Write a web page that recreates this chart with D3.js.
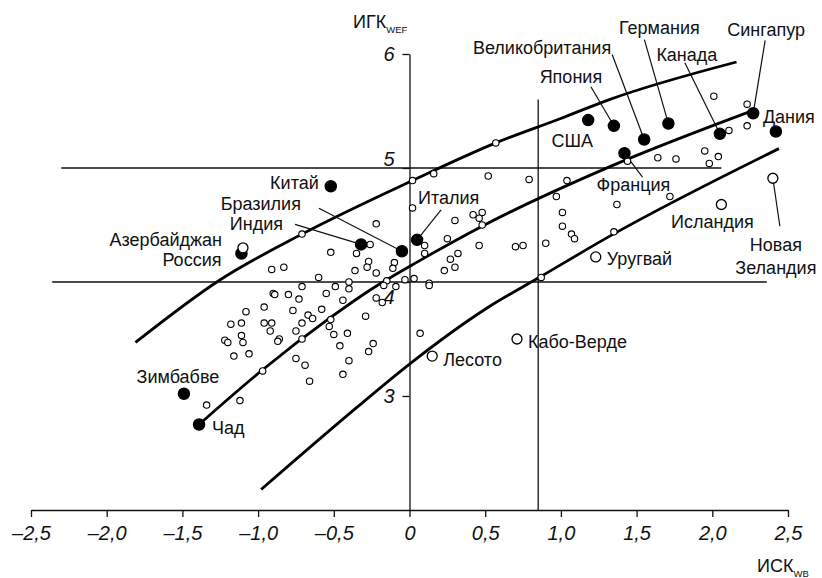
<!DOCTYPE html>
<html>
<head>
<meta charset="utf-8">
<script src="https://cdn.jsdelivr.net/npm/d3@7"></script>
<style>
  body { margin: 0; background: #fff; }
  svg { display: block; font-family: "Liberation Sans", Arial, sans-serif; }
</style>
</head>
<body>
<svg id="chart" width="822" height="578"></svg>
<script>
// ---- values ----
const xTicks = [-2.5, -2, -1.5, -1, -0.5, 0, 0.5, 1, 1.5, 2, 2.5];
const xTickLabels = ["–2,5", "–2,0", "–1,5", "–1,0", "–0,5", "0", "0,5", "1,0", "1,5", "2,0", "2,5"];
const yTicks = [3, 4, 5, 6];
const yTickLabels = ["3", "4", "5", "6"];

// unnamed countries (ИСК, ИГК)
const otherCountries = [
  [0.02, 4.65], [-0.22, 4.51], [-0.71, 4.42], [-0.26, 4.33], [-0.52, 4.26], [-0.35, 4.25],
  [-0.27, 4.18], [-0.28, 4.13], [-0.10, 4.17], [-0.11, 4.12], [-0.36, 4.10], [-0.22, 4.08],
  [-0.91, 4.11], [-0.83, 4.13], [-0.60, 4.04], [-0.40, 4.00], [-0.15, 4.01], [-0.17, 3.97],
  [-0.03, 4.02], [0.03, 4.03], [-0.71, 3.96], [-0.49, 3.96], [-0.40, 3.94], [-0.55, 3.90],
  [-0.90, 3.90], [-0.89, 3.89], [-0.80, 3.89], [-0.73, 3.85], [-0.44, 3.84], [-0.09, 3.96],
  [-0.22, 3.86], [-0.18, 3.82], [-0.96, 3.78], [-1.08, 3.74], [-0.77, 3.75], [-0.58, 3.76],
  [-0.67, 3.71], [-0.64, 3.68], [-0.29, 3.70], [-0.52, 3.67], [-1.18, 3.63], [-1.11, 3.64],
  [-0.96, 3.64], [-0.91, 3.64], [-0.71, 3.64], [-0.53, 3.61], [-0.92, 3.57], [-0.75, 3.57],
  [-0.50, 3.54], [-0.41, 3.55], [-1.11, 3.53], [-1.22, 3.49], [-1.20, 3.47], [-1.10, 3.47],
  [-0.86, 3.50], [-0.87, 3.48], [-0.71, 3.50], [-0.46, 3.44], [-0.24, 3.46], [-0.27, 3.39],
  [-1.16, 3.35], [-1.06, 3.37], [-0.75, 3.33], [-0.69, 3.27], [-0.40, 3.31], [-0.97, 3.22],
  [-0.66, 3.13], [-0.44, 3.19], [-1.34, 2.92], [-1.12, 2.96], [0.07, 3.55], [0.10, 4.32],
  [0.10, 4.25], [0.13, 3.99], [0.13, 3.97], [0.57, 5.22], [0.02, 4.89], [0.16, 4.95],
  [0.52, 4.93], [0.79, 4.90], [1.04, 4.89], [0.97, 4.75], [0.30, 4.54], [0.42, 4.59],
  [0.48, 4.61], [0.46, 4.56], [0.48, 4.50], [1.01, 4.61], [1.01, 4.49], [1.07, 4.42],
  [1.09, 4.38], [0.90, 4.34], [0.25, 4.38], [0.46, 4.32], [0.70, 4.31], [0.75, 4.32],
  [0.32, 4.25], [0.27, 4.20], [0.30, 4.13], [0.23, 4.10], [0.87, 4.04], [2.01, 5.63],
  [2.23, 5.56], [2.23, 5.37], [2.11, 5.33], [1.64, 5.09], [1.76, 5.08], [1.95, 5.15],
  [1.98, 5.04], [2.04, 5.10], [1.44, 5.06], [1.37, 4.68], [1.72, 4.75], [1.35, 4.44]
];

// named countries: filled = black dot, open = larger ring
const namedCountries = [
  { name: "Китай", x: -0.52, y: 4.84, kind: "filled" },
  { name: "Индия", x: -0.32, y: 4.33, kind: "filled" },
  { name: "Бразилия", x: -0.05, y: 4.27, kind: "filled" },
  { name: "Италия", x: 0.05, y: 4.37, kind: "filled" },
  { name: "Россия", x: -1.11, y: 4.25, kind: "filled" },
  { name: "Азербайджан", x: -1.10, y: 4.30, kind: "open" },
  { name: "Зимбабве", x: -1.49, y: 3.02, kind: "filled" },
  { name: "Чад", x: -1.39, y: 2.75, kind: "filled" },
  { name: "США", x: 1.18, y: 5.42, kind: "filled" },
  { name: "Япония", x: 1.35, y: 5.37, kind: "filled" },
  { name: "Великобритания", x: 1.55, y: 5.25, kind: "filled" },
  { name: "Германия", x: 1.71, y: 5.39, kind: "filled" },
  { name: "Франция", x: 1.42, y: 5.13, kind: "filled" },
  { name: "Канада", x: 2.05, y: 5.30, kind: "filled" },
  { name: "Сингапур", x: 2.27, y: 5.48, kind: "filled" },
  { name: "Дания", x: 2.42, y: 5.32, kind: "filled" },
  { name: "Исландия", x: 2.06, y: 4.68, kind: "open" },
  { name: "Новая\nЗеландия", x: 2.40, y: 4.91, kind: "open" },
  { name: "Уругвай", x: 1.23, y: 4.22, kind: "open" },
  { name: "Лесото", x: 0.15, y: 3.35, kind: "open" },
  { name: "Кабо-Верде", x: 0.71, y: 3.50, kind: "open" }
];

// regression line and band borders
const upperBand = [[-1.81, 3.47], [-1.25, 4.02], [-0.71, 4.42], [0.02, 4.89], [0.57, 5.22], [0.99, 5.43], [1.32, 5.60], [2.16, 5.93]];
const trendLine = [[-1.39, 2.75], [-0.97, 3.23], [-0.53, 3.68], [-0.26, 3.93], [0.07, 4.19], [0.48, 4.49], [1.32, 5.01], [2.28, 5.51]];
const lowerBand = [[-0.98, 2.18], [-0.33, 2.92], [0.0, 3.28], [0.51, 3.77], [0.87, 4.05], [1.32, 4.40], [2.44, 5.17]];

// reference levels
const hLines = [{ y: 5, x0: -2.30, x1: 2.06 }, { y: 4, x0: -2.36, x1: 2.36 }];
const vLines = [{ x: 0.85, y0: 2, y1: 5.6 }];

// ---- layout ----
// label placement relative to the point, px; lead = start of leader line
const labelPos = {
  "Китай": { dx: -12, dy: 3, anchor: "end" },
  "Индия": { dx: -78, dy: -14, anchor: "end", lead: [-66, -20] },
  "Бразилия": { dx: -101, dy: -41, anchor: "end", lead: [-83, -43] },
  "Италия": { dx: 1, dy: -36, anchor: "start", lead: [24, -30] },
  "Россия": { dx: -20, dy: 12, anchor: "end" },
  "Азербайджан": { dx: -21, dy: -2, anchor: "end" },
  "Зимбабве": { dx: -6, dy: -11, anchor: "middle" },
  "Чад": { dx: 13, dy: 9, anchor: "start" },
  "США": { dx: -16, dy: 27, anchor: "middle" },
  "Япония": { dx: -43, dy: -43, anchor: "middle", lead: [-23, -39] },
  "Великобритания": { dx: -33, dy: -86, anchor: "end", lead: [-32, -85] },
  "Германия": { dx: -9, dy: -90, anchor: "middle", lead: [-24, -84] },
  "Франция": { dx: 9, dy: 38, anchor: "middle", lead: [18, 24] },
  "Канада": { dx: -33, dy: -73, anchor: "middle", lead: [-35, -71] },
  "Сингапур": { dx: 13, dy: -77, anchor: "middle", lead: [12, -73] },
  "Дания": { dx: -13, dy: -9, anchor: "start" },
  "Исландия": { dx: -9, dy: 24, anchor: "middle" },
  "Новая\nЗеландия": { dx: 3, dy: 73, anchor: "middle", lead: [7, 48] },
  "Уругвай": { dx: 11, dy: 8, anchor: "start" },
  "Лесото": { dx: 11, dy: 10, anchor: "start" },
  "Кабо-Верде": { dx: 11, dy: 9, anchor: "start" }
};

const svg = d3.select("#chart");

const x = d3.scaleLinear().domain([-2.5, 2.5]).range([31, 788]);
const y = d3.scaleLinear().domain([2, 6]).range([510, 54]);

// Reference lines
svg.selectAll(".hline")
  .data(hLines)
  .enter()
  .append("line")
  .attr("x1", d => x(d.x0))
  .attr("x2", d => x(d.x1))
  .attr("y1", d => y(d.y))
  .attr("y2", d => y(d.y))
  .attr("stroke", "#111")
  .attr("stroke-width", 1.3);

svg.selectAll(".vline")
  .data(vLines)
  .enter()
  .append("line")
  .attr("x1", d => x(d.x))
  .attr("x2", d => x(d.x))
  .attr("y1", d => y(d.y0))
  .attr("y2", d => y(d.y1))
  .attr("stroke", "#111")
  .attr("stroke-width", 1.3);

// X axis
const xAxis = svg.append("g")
  .attr("transform", `translate(0,${y(2)})`)
  .call(d3.axisBottom(x)
    .tickValues(xTicks)
    .tickSize(7)
    .tickSizeOuter(0)
    .tickPadding(9)
    .tickFormat((d, i) => xTickLabels[i]));

xAxis.select(".domain").attr("stroke", "#111").attr("stroke-width", 1.3);
xAxis.selectAll(".tick line").attr("stroke", "#111").attr("stroke-width", 1.3);
xAxis.selectAll(".tick text")
  .attr("fill", "#111")
  .style("font-size", "20px")
  .style("font-style", "italic")
  .style("font-family", "\"Liberation Sans\", Arial, sans-serif");

// Y axis
const yAxis = svg.append("g")
  .attr("transform", `translate(${x(0)},0)`)
  .call(d3.axisLeft(y)
    .tickValues(yTicks)
    .tickSize(7)
    .tickSizeOuter(0)
    .tickPadding(8)
    .tickFormat((d, i) => yTickLabels[i]));

yAxis.select(".domain").attr("stroke", "#111").attr("stroke-width", 1.3);
yAxis.selectAll(".tick line").attr("stroke", "#111").attr("stroke-width", 1.3);
yAxis.selectAll(".tick text")
  .attr("fill", "#111")
  .attr("dy", d => d === 5 ? "-0.12em" : d === 4 ? "1.08em" : "0.32em")
  .style("font-size", "20px")
  .style("font-style", "italic")
  .style("font-family", "\"Liberation Sans\", Arial, sans-serif");

// Axis titles
const yTitle = svg.append("text")
  .attr("x", 353)
  .attr("y", 28)
  .attr("fill", "#111")
  .style("font-size", "18px");
yTitle.append("tspan").text("ИГК");
yTitle.append("tspan").attr("dy", 5).style("font-size", "9.5px").text("WEF");

const xTitle = svg.append("text")
  .attr("x", 757)
  .attr("y", 572)
  .attr("fill", "#111")
  .style("font-size", "18px");
xTitle.append("tspan").text("ИСК");
xTitle.append("tspan").attr("dy", 5).style("font-size", "9.5px").text("WB");

// Curves
const line = d3.line()
  .x(d => x(d[0]))
  .y(d => y(d[1]))
  .curve(d3.curveMonotoneX);

[upperBand, trendLine, lowerBand].forEach(pts => {
  svg.append("path")
    .datum(pts)
    .attr("fill", "none")
    .attr("stroke", "#000")
    .attr("stroke-width", 2.8)
    .attr("stroke-linecap", "butt")
    .attr("d", line);
});

// Leader lines
svg.selectAll(".leader")
  .data(namedCountries.filter(d => labelPos[d.name].lead))
  .enter()
  .append("line")
  .attr("class", "leader")
  .attr("x1", d => x(d.x) + labelPos[d.name].lead[0])
  .attr("y1", d => y(d.y) + labelPos[d.name].lead[1])
  .attr("x2", d => x(d.x))
  .attr("y2", d => y(d.y))
  .attr("stroke", "#111")
  .attr("stroke-width", 1.2);

// Unnamed countries
svg.selectAll(".other")
  .data(otherCountries)
  .enter()
  .append("circle")
  .attr("class", "other")
  .attr("cx", d => x(d[0]))
  .attr("cy", d => y(d[1]))
  .attr("r", 3.2)
  .attr("fill", "#fff")
  .attr("stroke", "#000")
  .attr("stroke-width", 1.1);

// Named countries
svg.selectAll(".named")
  .data(namedCountries)
  .enter()
  .append("circle")
  .attr("class", "named")
  .attr("cx", d => x(d.x))
  .attr("cy", d => y(d.y))
  .attr("r", d => d.kind === "filled" ? 5.6 : 5)
  .attr("fill", d => d.kind === "filled" ? "#000" : "#fff")
  .attr("stroke", "#000")
  .attr("stroke-width", 1.3);

// Labels
namedCountries.forEach(d => {
  const p = labelPos[d.name];
  const t = svg.append("text")
    .attr("x", x(d.x) + p.dx)
    .attr("y", y(d.y) + p.dy)
    .attr("text-anchor", p.anchor)
    .attr("fill", "#111")
    .style("font-size", "18px");
  d.name.split("\n").forEach((part, i) => {
    t.append("tspan")
      .attr("x", x(d.x) + p.dx)
      .attr("dy", i === 0 ? 0 : 23)
      .text(part);
  });
});
</script>
</body>
</html>
